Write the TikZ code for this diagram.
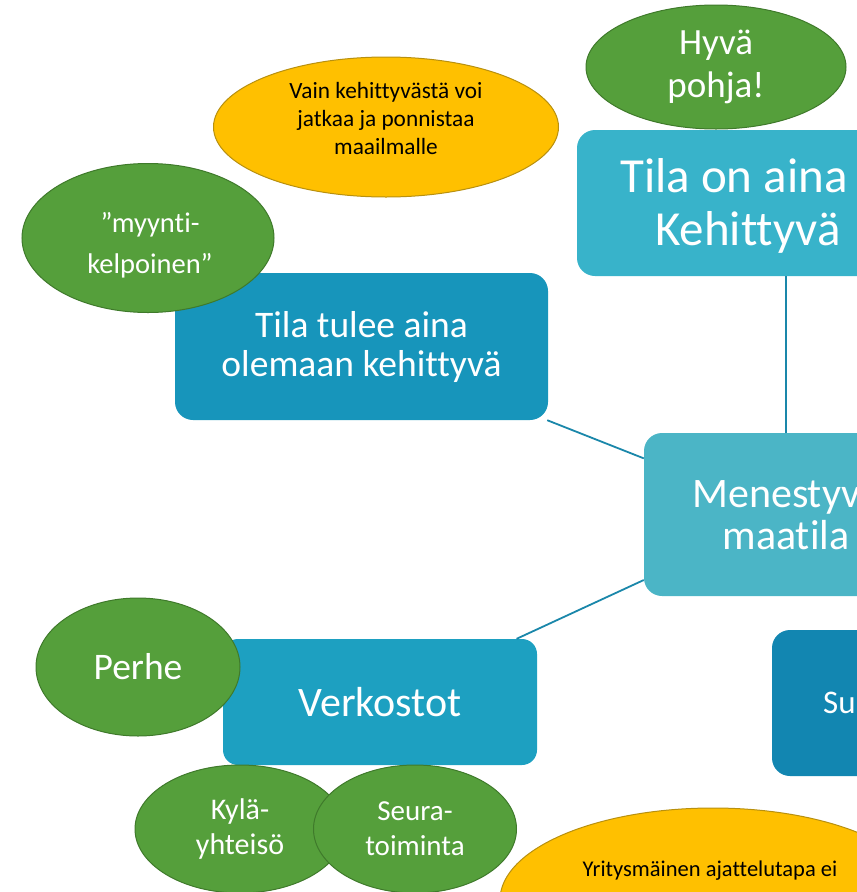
\documentclass[tikz,border=0pt]{standalone}
\usepackage{fontspec}
\setmainfont{Carlito}[Ligatures=NoCommon]
\usetikzlibrary{shapes.geometric,positioning}
\definecolor{tuleevari}{HTML}{1795BB}
\definecolor{ainavari}{HTML}{38B3CA}
\definecolor{maatilavari}{HTML}{4BB5C6}
\definecolor{verkostovari}{HTML}{1DA0C1}
\definecolor{suvari}{HTML}{1286B1}
\definecolor{vihrea}{HTML}{559F3B}
\definecolor{vihreareuna}{HTML}{3F7A2B}
\definecolor{oranssi}{HTML}{FFC000}
\definecolor{oranssireuna}{HTML}{B8900F}
\definecolor{yhteys}{HTML}{1A87AA}
\begin{document}
\begin{tikzpicture}[x=1pt,y=-1pt,
  laatikko/.style={rectangle, rounded corners=18pt, inner sep=0pt, text=white, align=center},
  pallo/.style={ellipse, draw=vihreareuna, fill=vihrea, line width=1pt, inner sep=0pt, text=white, align=center},
  kupla/.style={ellipse, draw=oranssireuna, fill=oranssi, line width=1pt, inner sep=0pt, text=black, align=center},
  viiva/.style={draw=yhteys, line width=1.8pt}]

  \useasboundingbox (0,0) rectangle (857,892);
  \clip (0,0) rectangle (857,892);

  \node[laatikko, fill=tuleevari, minimum width=373pt, minimum height=147pt,
    font=\fontsize{37.5}{39}\selectfont] (tulee) at (361.5,346.5) {Tila tulee aina\\olemaan kehittyvä};
  \node[laatikko, fill=ainavari, minimum width=418pt, minimum height=146pt] (aina) at (786,203) {};
  \node[laatikko, fill=maatilavari, minimum width=284pt, minimum height=163pt,
    font=\fontsize{42}{42}\selectfont] (maatila) at (786,514.5) {Menestyvä\\maatila};
  \node[laatikko, fill=verkostovari, rounded corners=15pt, minimum width=314pt, minimum height=126pt,
    font=\fontsize{42}{48}\selectfont] (verkostot) at (380,702) {Verkostot};
  \node[laatikko, fill=suvari, minimum width=300pt, minimum height=146pt] (su) at (922,703) {};

  \draw[viiva] (tulee) -- (maatila);
  \draw[viiva] (verkostot) -- (maatila);
  \draw[viiva] (aina) -- (maatila);

  \node[anchor=base west, text=white, inner sep=0pt, font=\fontsize{49}{53}\selectfont] (aina1) at (620,192) {Tila on aina};
  \node[anchor=base west, text=white, inner sep=0pt, font=\fontsize{49}{53}\selectfont] (aina2) at (655,245) {Kehittyvä};
  \node[anchor=base west, text=white, inner sep=0pt, font=\fontsize{33}{37}\selectfont] (su1) at (823,713) {Su};

  \node[pallo, minimum width=260pt, minimum height=124pt, font=\fontsize{37}{43}\selectfont] (hyva) at (716,67) {Hyvä\\pohja!};
  \node[pallo, minimum width=252pt, minimum height=149pt] (myynti) at (148,238) {};
  \node[text=white, align=center, inner sep=0pt, font=\fontsize{28.5}{41}\selectfont] (myynti1) at (150,245) {”myynti-\\kelpoinen”};
  \node[pallo, minimum width=204pt, minimum height=138pt, font=\fontsize{37.5}{43}\selectfont] (perhe) at (138,667) {Perhe};
  \node[pallo, minimum width=210pt, minimum height=128pt, font=\fontsize{30}{35}\selectfont] (kyla) at (240,829) {Kylä-\\yhteisö};
  \node[pallo, minimum width=203pt, minimum height=128pt, font=\fontsize{29}{35}\selectfont] (seura) at (415,829) {Seura-\\toiminta};

  \node[kupla, minimum width=345pt, minimum height=140pt] (vain) at (386,127) {};
  \node[align=center, inner sep=0pt, font=\fontsize{23.3}{28}\selectfont] (vain1) at (386,118)
    {Vain kehittyvästä voi\\jatkaa ja ponnistaa\\maailmalle};
  \node[kupla, minimum width=426pt, minimum height=184pt] (yritys) at (713,900) {};
  \node[anchor=base, inner sep=0pt, font=\fontsize{22.5}{28}\selectfont] (yritys1) at (710,876) {Yritysmäinen ajattelutapa ei};

\end{tikzpicture}
\end{document}
